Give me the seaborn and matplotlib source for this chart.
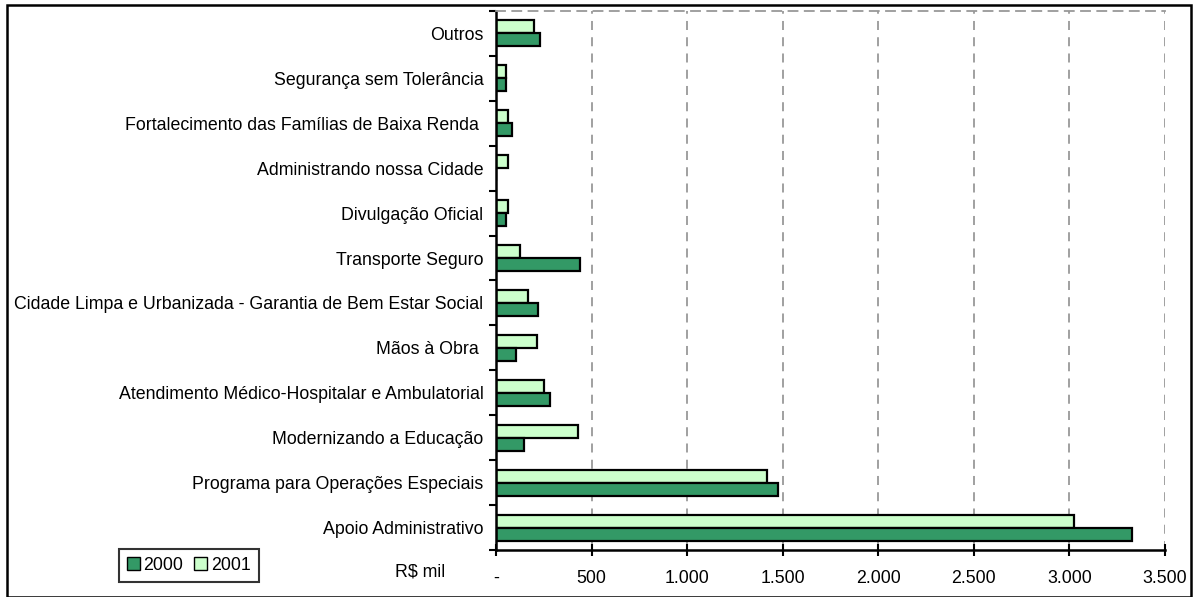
import matplotlib
matplotlib.use("Agg")
import matplotlib.pyplot as plt
import matplotlib.patches as mpatches
from matplotlib.ticker import FuncFormatter
import seaborn as sns
import pandas as pd

categories = [
    "Outros",
    "Segurança sem Tolerância",
    "Fortalecimento das Famílias de Baixa Renda ",
    "Administrando nossa Cidade",
    "Divulgação Oficial",
    "Transporte Seguro",
    "Cidade Limpa e Urbanizada - Garantia de Bem Estar Social",
    "Mãos à Obra ",
    "Atendimento Médico-Hospitalar e Ambulatorial",
    "Modernizando a Educação",
    "Programa para Operações Especiais",
    "Apoio Administrativo",
]
values_2000 = [231, 52, 85, 0, 54, 439, 222, 104, 283, 146, 1475, 3325]
values_2001 = [200, 52, 64, 64, 64, 127, 168, 212, 252, 429, 1418, 3022]
years = ["2000", "2001"]
xticks = [0, 500, 1000, 1500, 2000, 2500, 3000, 3500]

df = pd.DataFrame({
    "programa": categories * 2,
    "ano": [years[0]] * len(categories) + [years[1]] * len(categories),
    "valor": values_2000 + values_2001,
})

colors = {"2000": "#339966", "2001": "#CCFFCC"}
FS = 12.8

sns.set_style("white")
plt.rcParams["font.family"] = ["Liberation Sans", "DejaVu Sans"]
plt.rcParams["text.color"] = "black"
plt.rcParams["xtick.color"] = "black"
plt.rcParams["ytick.color"] = "black"

fig = plt.figure(figsize=(12.01, 5.97), dpi=100)
ax = fig.add_axes([0.413, 0.0787, 0.557, 0.903])

sns.barplot(data=df, y="programa", x="valor", hue="ano", order=categories,
            hue_order=["2001", "2000"], palette=colors, orient="h", saturation=1,
            width=0.58, edgecolor="black", linewidth=1.6, ax=ax, legend=False)

ax.set_xlim(0, 3500)
ax.set_ylim(len(categories) - 0.5, -0.5)
ax.set_xticks(xticks)
ax.xaxis.set_major_formatter(FuncFormatter(
    lambda v, p: "-" if v == 0 else f"{int(v):,}".replace(",", ".")))
ax.set_xlabel("")
ax.set_ylabel("")

# category boundaries carry the y ticks
ax.set_yticks([i + 0.5 for i in range(-1, len(categories))], minor=True)
ax.set_yticks(range(len(categories)))
ax.tick_params(axis="y", which="major", left=False, length=0, labelsize=FS, pad=9,
               labelcolor="black")
ax.tick_params(axis="y", which="minor", left=True, length=5, width=1.5,
               direction="out", color="black")
ax.tick_params(axis="x", bottom=True, length=9, width=1.5, direction="inout",
               color="black", labelcolor="black", labelsize=FS, pad=10)

for x in xticks[1:]:
    ax.axvline(x, color="#999999", linestyle=(0, (5, 4)), linewidth=1.3, zorder=0)

for side in ["left", "bottom"]:
    ax.spines[side].set_color("black")
    ax.spines[side].set_linewidth(1.8)
ax.spines["top"].set_color("#999999")
ax.spines["top"].set_linestyle((0, (5, 4)))
ax.spines["top"].set_linewidth(1.3)
ax.spines["right"].set_visible(False)

fig.text(0.35, 0.042, "R$ mil", fontsize=FS, ha="center", va="center", color="black")

handles = [mpatches.Patch(facecolor=colors[y], edgecolor="black", label=y) for y in years]
leg = fig.legend(handles=handles, loc="center", bbox_to_anchor=(0.157, 0.053), ncol=2,
                 frameon=True, fancybox=False, edgecolor="black", fontsize=FS,
                 handlelength=0.75, handleheight=0.75, handletextpad=0.2,
                 columnspacing=0.6, borderpad=0.45, labelcolor="black")
leg.get_frame().set_linewidth(1.5)

# outer frame of the figure
fig.add_artist(mpatches.Rectangle((0.006, 0.0), 0.986, 0.992, transform=fig.transFigure,
                                  fill=False, edgecolor="black", linewidth=1.8))

fig.savefig("out.png", dpi=100)
